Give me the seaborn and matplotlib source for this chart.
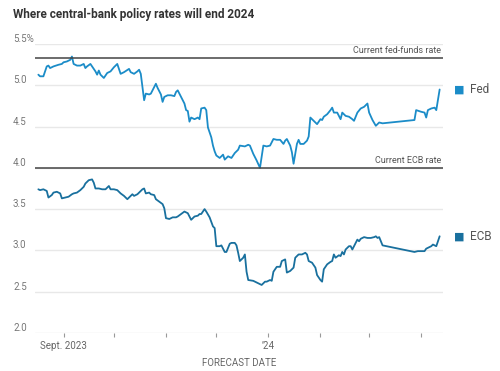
import pandas as pd
import seaborn as sns
import matplotlib.pyplot as plt

# forecast of year-end 2024 policy rate
fed_dates = [
    "2023-08-17", "2023-08-18", "2023-08-20", "2023-08-22", "2023-08-23", "2023-08-24", "2023-08-26", "2023-08-29", "2023-08-31",
    "2023-09-01", "2023-09-03", "2023-09-05", "2023-09-06", "2023-09-07", "2023-09-09", "2023-09-11", "2023-09-13", "2023-09-14",
    "2023-09-15", "2023-09-17", "2023-09-19", "2023-09-20", "2023-09-21", "2023-09-22", "2023-09-23", "2023-09-25", "2023-09-27",
    "2023-09-29", "2023-10-01", "2023-10-03", "2023-10-04", "2023-10-05", "2023-10-07", "2023-10-10", "2023-10-11", "2023-10-13",
    "2023-10-15", "2023-10-16", "2023-10-17", "2023-10-18", "2023-10-19", "2023-10-20", "2023-10-22", "2023-10-23", "2023-10-25",
    "2023-10-26", "2023-10-27", "2023-10-29", "2023-10-30", "2023-10-31", "2023-11-02", "2023-11-04", "2023-11-06", "2023-11-07",
    "2023-11-08", "2023-11-10", "2023-11-12", "2023-11-13", "2023-11-14", "2023-11-15", "2023-11-16", "2023-11-18", "2023-11-20",
    "2023-11-21", "2023-11-22", "2023-11-24", "2023-11-25", "2023-11-26", "2023-11-28", "2023-11-29", "2023-11-30", "2023-12-01",
    "2023-12-03", "2023-12-05", "2023-12-06", "2023-12-08", "2023-12-10", "2023-12-12", "2023-12-14", "2023-12-15", "2023-12-18",
    "2023-12-20", "2023-12-21", "2023-12-23", "2023-12-25", "2023-12-27", "2023-12-29", "2023-12-31", "2024-01-02", "2024-01-04",
    "2024-01-06", "2024-01-08", "2024-01-10", "2024-01-11", "2024-01-12", "2024-01-14", "2024-01-15", "2024-01-16", "2024-01-18",
    "2024-01-19", "2024-01-20", "2024-01-22", "2024-01-24", "2024-01-25", "2024-01-26", "2024-01-28", "2024-01-30", "2024-02-01",
    "2024-02-02", "2024-02-03", "2024-02-05", "2024-02-07", "2024-02-08", "2024-02-09", "2024-02-11", "2024-02-13", "2024-02-14",
    "2024-02-16", "2024-02-18", "2024-02-20", "2024-02-21", "2024-02-23", "2024-02-25", "2024-02-27", "2024-02-29", "2024-03-01",
    "2024-03-03", "2024-03-05", "2024-03-07", "2024-03-09", "2024-03-28", "2024-03-29", "2024-04-01", "2024-04-03", "2024-04-04",
    "2024-04-05", "2024-04-07", "2024-04-09", "2024-04-10", "2024-04-12",
]
fed_rates = [
    5.13, 5.11, 5.11, 5.23, 5.24, 5.21, 5.23, 5.25, 5.26,
    5.28, 5.29, 5.31, 5.35, 5.26, 5.24, 5.24, 5.26, 5.21,
    5.23, 5.26, 5.20, 5.17, 5.13, 5.18, 5.13, 5.09, 5.15,
    5.17, 5.22, 5.26, 5.20, 5.14, 5.16, 5.20, 5.16, 5.14,
    5.17, 5.19, 5.14, 4.98, 4.82, 4.90, 4.89, 4.90, 4.98,
    5.02, 4.97, 4.89, 4.80, 4.86, 4.88, 4.88, 4.87, 4.92,
    4.94, 4.86, 4.78, 4.70, 4.69, 4.56, 4.61, 4.59, 4.61,
    4.59, 4.72, 4.73, 4.70, 4.49, 4.37, 4.27, 4.20, 4.15,
    4.12, 4.16, 4.10, 4.14, 4.12, 4.18, 4.22, 4.27, 4.26,
    4.28, 4.27, 4.17, 4.09, 4.00, 4.27, 4.26, 4.27, 4.35,
    4.34, 4.34, 4.29, 4.33, 4.35, 4.27, 4.19, 4.05, 4.29,
    4.34, 4.29, 4.29, 4.33, 4.38, 4.61, 4.57, 4.53, 4.59,
    4.58, 4.62, 4.65, 4.70, 4.73, 4.67, 4.67, 4.59, 4.67,
    4.63, 4.62, 4.59, 4.57, 4.67, 4.72, 4.74, 4.78, 4.67,
    4.58, 4.51, 4.55, 4.54, 4.58, 4.70, 4.68, 4.67, 4.61,
    4.70, 4.72, 4.73, 4.70, 4.95,
]

ecb_dates = [
    "2023-08-17", "2023-08-18", "2023-08-20", "2023-08-22", "2023-08-23", "2023-08-25", "2023-08-26", "2023-08-28", "2023-08-30",
    "2023-08-31", "2023-09-02", "2023-09-04", "2023-09-06", "2023-09-07", "2023-09-09", "2023-09-11", "2023-09-13", "2023-09-14",
    "2023-09-16", "2023-09-18", "2023-09-19", "2023-09-20", "2023-09-22", "2023-09-24", "2023-09-26", "2023-09-28", "2023-09-29",
    "2023-10-01", "2023-10-03", "2023-10-05", "2023-10-07", "2023-10-09", "2023-10-10", "2023-10-12", "2023-10-13", "2023-10-15",
    "2023-10-17", "2023-10-18", "2023-10-19", "2023-10-20", "2023-10-22", "2023-10-23", "2023-10-25", "2023-10-26", "2023-10-28",
    "2023-10-30", "2023-10-31", "2023-11-01", "2023-11-03", "2023-11-05", "2023-11-07", "2023-11-08", "2023-11-10", "2023-11-12",
    "2023-11-14", "2023-11-15", "2023-11-16", "2023-11-18", "2023-11-20", "2023-11-21", "2023-11-22", "2023-11-24", "2023-11-25",
    "2023-11-27", "2023-11-29", "2023-11-30", "2023-12-01", "2023-12-03", "2023-12-04", "2023-12-06", "2023-12-07", "2023-12-09",
    "2023-12-10", "2023-12-12", "2023-12-13", "2023-12-14", "2023-12-15", "2023-12-17", "2023-12-18", "2023-12-19", "2023-12-20",
    "2023-12-23", "2023-12-26", "2023-12-28", "2023-12-30", "2023-12-31", "2024-01-02", "2024-01-03", "2024-01-04", "2024-01-06",
    "2024-01-08", "2024-01-09", "2024-01-11", "2024-01-12", "2024-01-14", "2024-01-16", "2024-01-17", "2024-01-19", "2024-01-21",
    "2024-01-23", "2024-01-24", "2024-01-25", "2024-01-27", "2024-01-29", "2024-01-30", "2024-02-01", "2024-02-02", "2024-02-03",
    "2024-02-04", "2024-02-05", "2024-02-07", "2024-02-08", "2024-02-09", "2024-02-10", "2024-02-12", "2024-02-13", "2024-02-14",
    "2024-02-15", "2024-02-16", "2024-02-18", "2024-02-19", "2024-02-20", "2024-02-22", "2024-02-23", "2024-02-24", "2024-02-25",
    "2024-02-27", "2024-02-29", "2024-03-02", "2024-03-04", "2024-03-05", "2024-03-06", "2024-03-07", "2024-03-08", "2024-03-09",
    "2024-03-28", "2024-03-30", "2024-04-03", "2024-04-04", "2024-04-05", "2024-04-07", "2024-04-08", "2024-04-10", "2024-04-12",
]
ecb_rates = [
    3.74, 3.73, 3.74, 3.72, 3.64, 3.67, 3.70, 3.71, 3.69,
    3.63, 3.64, 3.65, 3.68, 3.69, 3.70, 3.73, 3.77, 3.81,
    3.85, 3.86, 3.82, 3.75, 3.75, 3.74, 3.74, 3.78, 3.74,
    3.74, 3.73, 3.69, 3.66, 3.62, 3.64, 3.68, 3.66, 3.68,
    3.72, 3.74, 3.75, 3.69, 3.70, 3.68, 3.67, 3.62, 3.59,
    3.56, 3.51, 3.39, 3.38, 3.40, 3.40, 3.41, 3.44, 3.47,
    3.45, 3.41, 3.37, 3.41, 3.42, 3.44, 3.44, 3.50, 3.47,
    3.40, 3.29, 3.27, 3.05, 3.05, 3.06, 2.98, 2.98, 3.08,
    3.09, 3.09, 3.06, 2.97, 2.87, 2.91, 2.95, 2.74, 2.64,
    2.63, 2.60, 2.58, 2.62, 2.62, 2.64, 2.63, 2.74, 2.80,
    2.80, 2.87, 2.89, 2.73, 2.75, 2.79, 2.91, 2.95, 2.95,
    2.97, 2.95, 2.87, 2.85, 2.79, 2.70, 2.64, 2.62, 2.77,
    2.80, 2.83, 2.86, 2.87, 2.95, 2.91, 2.94, 2.93, 2.98,
    2.95, 3.01, 3.05, 3.05, 3.01, 3.09, 3.13, 3.11, 3.14,
    3.16, 3.15, 3.15, 3.16, 3.17, 3.15, 3.16, 3.11, 3.06,
    2.98, 2.99, 2.99, 3.02, 3.03, 3.05, 3.07, 3.05, 3.17,
]

fed_current = 5.33
ecb_current = 4.0

y_ticks = [2.0, 2.5, 3.0, 3.5, 4.0, 4.5, 5.0, 5.5]
y_labels = ["2.0", "2.5", "3.0", "3.5", "4.0", "4.5", "5.0", "5.5%"]
x_ticks = ["2023-09-01", "2023-10-01", "2023-11-01", "2023-12-01", "2024-01-01", "2024-02-01", "2024-03-01", "2024-04-01"]
x_labels = ["Sept. 2023", "", "", "", "\u201924", "", "", ""]

colors = {"Fed": "#1b8cc8", "ECB": "#19709e"}

df = pd.concat([
    pd.DataFrame({"date": pd.to_datetime(fed_dates), "rate": fed_rates, "bank": "Fed"}),
    pd.DataFrame({"date": pd.to_datetime(ecb_dates), "rate": ecb_rates, "bank": "ECB"}),
])

sns.set_theme(style="white")
plt.rcParams['font.family'] = ['Roboto', 'DejaVu Sans']

fig = plt.figure(figsize=(5, 3.71), dpi=100)
ax = fig.add_axes([0.07, 0.103, 0.816, 0.778])

sns.lineplot(data=df, x="date", y="rate", hue="bank", palette=colors,
             linewidth=1.3, legend=False, ax=ax)

# current policy rates
for val, txt in [(fed_current, "Current fed-funds rate"), (ecb_current, "Current ECB rate")]:
    ax.axhline(val, color="#444444", lw=1.1, zorder=3)
    ax.annotate(txt, xy=(0.995, val), xycoords=ax.get_yaxis_transform(),
                xytext=(0, 2), textcoords="offset points",
                ha="right", va="bottom", fontsize=6.5, color="#555555")

# end-of-line labels
for name, dates, rates in [("Fed", fed_dates, fed_rates), ("ECB", ecb_dates, ecb_rates)]:
    last = (pd.to_datetime(dates[-1]), rates[-1])
    ax.annotate("\u25a0", xy=last, xytext=(14, 0), textcoords="offset points",
                ha="center", va="center", fontsize=8, color=colors[name],
                family=["DejaVu Sans"])
    ax.annotate(name, xy=last, xytext=(22, 0), textcoords="offset points",
                ha="left", va="center", fontsize=8.5, color="#555555")

ax.set_ylim(2.0, 5.5)
ax.set_xlim(pd.Timestamp("2023-08-15"), pd.Timestamp("2024-04-14"))
ax.set_yticks(y_ticks)
ax.set_yticklabels(y_labels)
for lbl in ax.get_yticklabels():
    lbl.set_horizontalalignment("left")
    lbl.set_verticalalignment("bottom")
ax.tick_params(axis="y", length=0, pad=15.8, labelsize=7, labelcolor="#777777")

ax.set_xticks(pd.to_datetime(x_ticks))
ax.set_xticklabels(x_labels)
ax.tick_params(axis="x", bottom=True, length=3, width=0.8, color="#999999",
               direction="out", labelsize=7, labelcolor="#666666", pad=3)

ax.grid(axis="y", color="#e8e8e8", lw=1)
ax.grid(axis="x", visible=False)
for s in ax.spines.values():
    s.set_visible(False)

ax.set_xlabel("FORECAST DATE", fontsize=7, color="#666666", labelpad=5)
ax.set_ylabel("")

fig.text(0.026, 0.962, "Where central-bank policy rates will end 2024",
         fontsize=8.5, fontweight="bold", color="#333333", va="center")

fig.savefig("out.png", dpi=100)
